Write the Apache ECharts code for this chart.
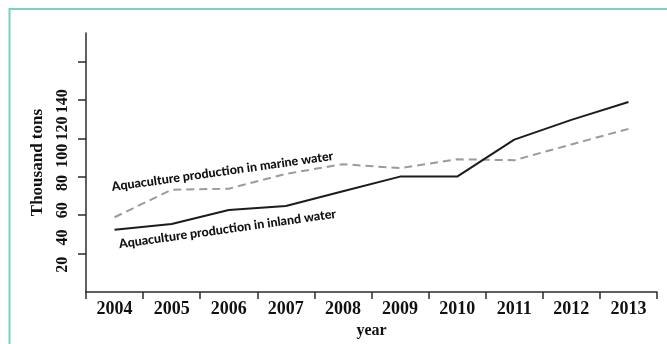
<!DOCTYPE html>
<html>
<head>
<meta charset="utf-8">
<title>Aquaculture production, 2004–2013</title>
<script src="https://cdn.jsdelivr.net/npm/echarts@6/dist/echarts.min.js"></script>
<style>
  html, body { margin: 0; padding: 0; background: #ffffff; }
  #chart { width: 667px; height: 344px; }
</style>
</head>
<body>
<div id="chart"></div>
<script>
// Years on the horizontal axis
const years = ['2004', '2005', '2006', '2007', '2008', '2009', '2010', '2011', '2012', '2013'];

// Production, thousand tons
const inlandWater = [45.8, 49.9, 60.2, 63.1, 73.9, 84.7, 84.7, 111.8, 126.3, 139.4];
const marineWater = [54.9, 75.1, 75.8, 86.7, 93.8, 90.9, 97.4, 96.7, 108.3, 119.7];

// Vertical axis: printed labels and tick marks
const yLabelValues = [20, 40, 60, 80, 100, 120, 140];
const yTickValues = [28.2, 56.4, 84.6, 112.8, 141, 169.2];

// Series names, also written beside the lines
const marineName = 'Aquaculture production in marine water';
const inlandName = 'Aquaculture production in inland water';

const serif = '"Liberation Serif", "Times New Roman", serif';
const sans = 'Lato, "Open Sans", sans-serif';
const axisColor = '#2b2b2b';

const chart = echarts.init(document.getElementById('chart'), null, { renderer: 'canvas' });

chart.setOption({
  animation: false,
  backgroundColor: '#ffffff',
  grid: { left: 86, right: 10, top: 33, bottom: 47, containLabel: false },
  xAxis: {
    type: 'category',
    data: years,
    boundaryGap: true,
    name: 'year',
    nameLocation: 'middle',
    nameGap: 30,
    nameTextStyle: { fontFamily: serif, fontWeight: 'bold', fontSize: 16, color: '#111' },
    axisLine: { show: true, lineStyle: { color: axisColor, width: 1.5 } },
    axisTick: { show: true, length: 7, lineStyle: { color: axisColor, width: 1.5 } },
    axisLabel: { fontFamily: serif, fontWeight: 'bold', fontSize: 18, color: '#111', margin: 8 },
    splitLine: { show: false }
  },
  yAxis: {
    type: 'value',
    min: 0,
    max: 190,
    name: 'Thousand tons',
    nameLocation: 'middle',
    nameRotate: 90,
    nameGap: 40,
    nameTextStyle: { fontFamily: serif, fontWeight: 'bold', fontSize: 17, color: '#111' },
    axisLine: { show: true, lineStyle: { color: axisColor, width: 1.5 } },
    axisTick: { show: true, length: 8, customValues: yTickValues, lineStyle: { color: axisColor, width: 1.5 } },
    axisLabel: {
      customValues: yLabelValues,
      rotate: 90,
      fontFamily: serif, fontWeight: 'bold', fontSize: 16, color: '#111',
      margin: 15
    },
    splitLine: { show: false }
  },
  series: [
    {
      name: inlandName,
      type: 'line',
      data: inlandWater,
      showSymbol: false,
      lineStyle: { color: '#1c1c1c', width: 2 },
      z: 3
    },
    {
      name: marineName,
      type: 'line',
      data: marineWater,
      showSymbol: false,
      lineStyle: { color: '#9b9b9b', width: 2, type: [8, 5] },
      z: 2
    }
  ],
  graphic: [
    {
      // thin teal frame around the figure
      type: 'rect',
      silent: true,
      shape: { x: 9.5, y: 9, width: 720, height: 400 },
      style: { fill: 'none', stroke: '#79d3c4', lineWidth: 2 }
    },
    {
      type: 'text',
      silent: true,
      x: 222.5, y: 171.5,
      rotation: 8 * Math.PI / 180,
      style: {
        text: marineName,
        font: '900 12.5px ' + sans,
        fill: '#111',
        align: 'center',
        verticalAlign: 'middle'
      }
    },
    {
      type: 'text',
      silent: true,
      x: 227.5, y: 229,
      rotation: 8 * Math.PI / 180,
      style: {
        text: inlandName,
        font: '900 12.5px ' + sans,
        fill: '#111',
        align: 'center',
        verticalAlign: 'middle'
      }
    }
  ]
});
</script>
</body>
</html>
